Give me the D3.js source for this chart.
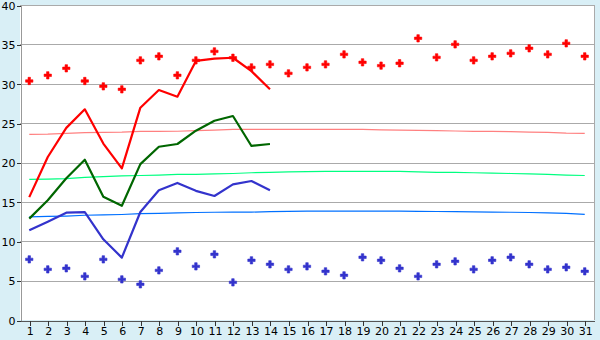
<!DOCTYPE html>
<html>
<head>
<meta charset="utf-8">
<script src="https://cdn.jsdelivr.net/npm/d3@7"></script>
<style>
  body { margin: 0; background: #d9eff6; }
  text { font-family: "DejaVu Sans", sans-serif; font-size: 11px; fill: #000; }
</style>
</head>
<body>
<div id="chart"></div>
<script>
const days = d3.range(1, 32);
const yTicks = [0, 5, 10, 15, 20, 25, 30, 35, 40];

// daily max / mean / min (first 14 days)
const maxLine = [15.6, 20.7, 24.4, 26.75, 22.4, 19.26, 26.96, 29.2, 28.36, 32.9, 33.2, 33.3, 31.6, 29.3];
const meanLine = [12.87, 15.2, 18.0, 20.35, 15.66, 14.5, 19.8, 22.0, 22.35, 24.04, 25.3, 25.9, 22.1, 22.35];
const minLine = [11.39, 12.49, 13.63, 13.71, 10.25, 7.92, 13.71, 16.47, 17.4, 16.4, 15.75, 17.23, 17.65, 16.47];

// record high / low for every day
const recordHigh = [30.35, 31.07, 31.96, 30.35, 29.67, 29.29, 32.97, 33.48, 31.07, 32.97,
  34.11, 33.3, 32.08, 32.46, 31.32, 32.08, 32.46, 33.73, 32.72, 32.3,
  32.6, 35.77, 33.35, 35.0, 32.97, 33.48, 33.86, 34.5, 33.73, 35.13, 33.48];
const recordLow = [7.7, 6.43, 6.56, 5.54, 7.7, 5.16, 4.53, 6.3, 8.72, 6.81,
  8.34, 4.78, 7.58, 7.07, 6.43, 6.81, 6.18, 5.67, 7.96, 7.58,
  6.56, 5.54, 7.07, 7.45, 6.43, 7.58, 7.96, 7.07, 6.43, 6.69, 6.18];

// normals
const normalMax = [23.58, 23.6, 23.7, 23.8, 23.82, 23.85, 23.95, 23.96, 23.97, 24.05,
  24.1, 24.2, 24.2, 24.2, 24.2, 24.2, 24.2, 24.2, 24.2, 24.15,
  24.1, 24.08, 24.05, 24.0, 23.96, 23.95, 23.93, 23.85, 23.82, 23.72, 23.7];
const normalMean = [17.85, 17.9, 17.95, 18.1, 18.2, 18.3, 18.35, 18.4, 18.5, 18.5,
  18.55, 18.6, 18.7, 18.75, 18.8, 18.85, 18.87, 18.87, 18.87, 18.87,
  18.87, 18.8, 18.75, 18.75, 18.7, 18.65, 18.6, 18.55, 18.5, 18.4, 18.35];
const normalMin = [13.1, 13.15, 13.2, 13.3, 13.35, 13.4, 13.5, 13.55, 13.6, 13.65,
  13.68, 13.7, 13.7, 13.75, 13.8, 13.82, 13.82, 13.82, 13.82, 13.82,
  13.82, 13.8, 13.78, 13.75, 13.72, 13.7, 13.68, 13.65, 13.6, 13.55, 13.42];

const width = 600, height = 340;
const margin = { top: 5, right: 6, bottom: 20, left: 20 };

const svg = d3.select("#chart").append("svg")
  .attr("width", width)
  .attr("height", height);

const x = d3.scalePoint()
  .domain(days)
  .range([margin.left, width - margin.right])
  .padding(0.5);

const y = d3.scaleLinear()
  .domain([0, 40])
  .range([height - margin.bottom, margin.top]);

svg.append("rect")
  .attr("x", margin.left)
  .attr("y", margin.top)
  .attr("width", width - margin.left - margin.right)
  .attr("height", height - margin.top - margin.bottom)
  .attr("fill", "#fff");

// grid
svg.append("g")
  .attr("shape-rendering", "crispEdges")
  .selectAll("line")
  .data(yTicks.filter(d => d > 0))
  .join("line")
  .attr("x1", margin.left)
  .attr("x2", width - margin.right)
  .attr("y1", d => y(d) + 0.5)
  .attr("y2", d => y(d) + 0.5)
  .attr("stroke", "#aaa");

svg.append("line")
  .attr("x1", width - margin.right + 0.5)
  .attr("x2", width - margin.right + 0.5)
  .attr("y1", margin.top)
  .attr("y2", height - margin.bottom)
  .attr("stroke", "#aaa");

// axes
const yAxis = svg.append("g")
  .attr("transform", `translate(${margin.left + 0.5},0.5)`)
  .call(d3.axisLeft(y).tickValues(yTicks).tickSize(4).tickSizeOuter(0));
yAxis.select(".domain").attr("stroke", "#999");
yAxis.selectAll(".tick line").attr("stroke", "#333");
yAxis.selectAll("text").attr("x", -5).attr("dy", "0.35em").style("fill", "#000");

const xAxis = svg.append("g")
  .attr("transform", `translate(0.5,${height - margin.bottom + 0.5})`)
  .call(d3.axisBottom(x).tickSize(5).tickSizeOuter(0));
xAxis.select(".domain").attr("stroke", "#555");
xAxis.selectAll(".tick line").attr("stroke", "#333");
xAxis.selectAll("text").attr("y", 7).style("fill", "#000");
svg.selectAll(".domain, .tick line").attr("shape-rendering", "crispEdges");

// normals
const line = d3.line().x((d, i) => x(days[i])).y(d => y(d));
[[normalMax, "#ff8080"], [normalMean, "#00ff80"], [normalMin, "#0070ff"]].forEach(([data, color]) => {
  svg.append("path")
    .datum(data)
    .attr("fill", "none")
    .attr("stroke", color)
    .attr("stroke-width", 1.2)
    .attr("d", line);
});

// daily lines
[[maxLine, "#ff0000"], [meanLine, "#006600"], [minLine, "#3333cc"]].forEach(([data, color]) => {
  svg.append("path")
    .datum(data)
    .attr("fill", "none")
    .attr("stroke", color)
    .attr("stroke-width", 2.2)
    .attr("stroke-linejoin", "round")
    .attr("d", line);
});

// records
const cross = d3.symbol().type(d3.symbolCross).size(30);
[[recordHigh, "#ff0000"], [recordLow, "#3333cc"]].forEach(([data, color]) => {
  svg.append("g")
    .selectAll("path")
    .data(data)
    .join("path")
    .attr("transform", (d, i) => `translate(${x(days[i])},${y(d)})`)
    .attr("d", cross)
    .attr("fill", color)
    .attr("stroke", color)
    .attr("stroke-width", 0.6);
});
</script>
</body>
</html>
